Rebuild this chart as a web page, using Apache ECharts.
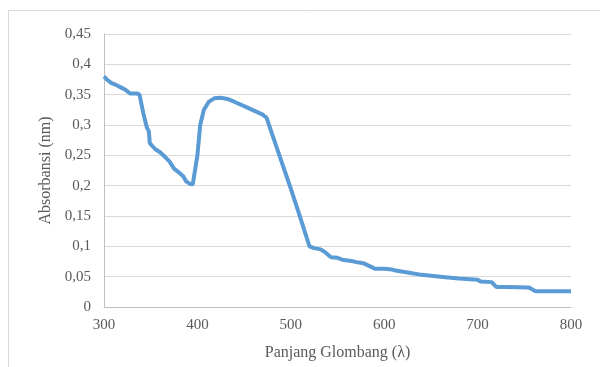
<!DOCTYPE html>
<html><head><meta charset="utf-8">
<script src="https://cdn.jsdelivr.net/npm/echarts@6/dist/echarts.min.js"></script>
<style>html,body{margin:0;padding:0;background:#fff}#c{width:600px;height:367px}</style>
</head><body><div id="c"></div>
<script>
var wavelengths = [300,303,305,308,310,313,315,318,320,323,325,328,330,335,338,342,346,348,349,352,355,360,365,370,375,380,385,388,392,395,397,400,403,407,412,418,425,432,440,450,460,470,474,480,490,500,510,520,525,532,537,543,550,555,565,570,578,585,590,600,608,612,625,640,660,680,700,703,715,720,730,755,762,800];
var absorbance = [0.38,0.375,0.373,0.369,0.368,0.366,0.365,0.362,0.362,0.358,0.357,0.352,0.35,0.352,0.35,0.32,0.295,0.29,0.27,0.265,0.26,0.255,0.248,0.24,0.228,0.222,0.215,0.207,0.203,0.202,0.202,0.25,0.3,0.325,0.338,0.344,0.345,0.343,0.338,0.331,0.324,0.317,0.312,0.285,0.24,0.195,0.148,0.1,0.097,0.095,0.09,0.082,0.081,0.078,0.076,0.074,0.072,0.067,0.063,0.063,0.062,0.06,0.057,0.053,0.05,0.047,0.045,0.042,0.041,0.033,0.033,0.032,0.026,0.026];
var xTicks = [300,400,500,600,700,800];
var yTicks = [0,0.05,0.1,0.15,0.2,0.25,0.3,0.35,0.4,0.45];
var data = wavelengths.map(function(x,i){return [x, absorbance[i]];});
var font = 'Liberation Serif';
var chart = echarts.init(document.getElementById('c'));
chart.setOption({
  animation:false,
  graphic:[{type:'rect',shape:{x:8.5,y:10.5,width:600,height:400},style:{fill:'none',stroke:'#d9d9d9',lineWidth:1}}],
  grid:{left:104,right:29,top:34,bottom:60},
  xAxis:{type:'value',min:xTicks[0],max:xTicks[xTicks.length-1],interval:100,
    name:'Panjang Glombang (λ)',nameLocation:'middle',nameGap:38,
    nameTextStyle:{fontFamily:font,fontSize:16,color:'#595959'},
    axisLine:{lineStyle:{color:'#bfbfbf'}},axisTick:{show:false},splitLine:{show:false},
    axisLabel:{fontFamily:font,fontSize:15,color:'#595959',margin:11}},
  yAxis:{type:'value',min:yTicks[0],max:yTicks[yTicks.length-1],interval:0.05,
    name:'Absorbansi (nm)',nameLocation:'middle',nameGap:49,nameRotate:90,
    nameTextStyle:{fontFamily:font,fontSize:16,color:'#595959'},
    axisLine:{show:true,lineStyle:{color:'#bfbfbf'}},axisTick:{show:false},
    splitLine:{lineStyle:{color:'#d9d9d9',width:1}},
    axisLabel:{fontFamily:font,fontSize:15,color:'#595959',margin:13,
      formatter:function(v){var s=String(Math.round(v*100)/100);return s.replace('.',',');}}},
  series:[{type:'line',data:data,showSymbol:false,lineStyle:{color:'#5b9bd5',width:4},itemStyle:{color:'#5b9bd5'}}]
});
</script></body></html>
